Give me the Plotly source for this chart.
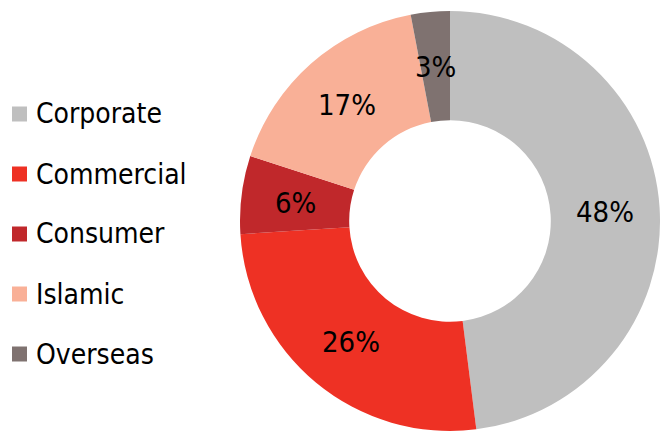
import math
import plotly.graph_objects as go

labels = ["Corporate", "Commercial", "Consumer", "Islamic", "Overseas"]
values = [48, 26, 6, 17, 3]
colors = ["#BFBFBF", "#EE3124", "#C0282B", "#F9B097", "#7F7270"]

W, H = 660, 432
FONT = "DejaVu Sans Condensed, DejaVu Sans, sans-serif"
HOLE = 0.48
dom_x = [240 / W, 1.0]
dom_y = [0.0, 422 / H]

fig = go.Figure()
fig.add_trace(go.Pie(
    labels=labels, values=values, sort=False, direction="clockwise", rotation=0,
    hole=HOLE,
    marker=dict(colors=colors, line=dict(width=0)),
    textinfo="none",
    domain=dict(x=dom_x, y=dom_y),
    showlegend=False, hoverinfo="label+percent",
))

# percentage labels at the middle of the ring, derived from the values
cx = (dom_x[0] + dom_x[1]) / 2 * W
cy = H - (dom_y[0] + dom_y[1]) / 2 * H
R = min((dom_x[1] - dom_x[0]) * W, (dom_y[1] - dom_y[0]) * H) / 2
rmid = R * (1 + HOLE) / 2
total = sum(values)
cum = 0
for v in values:
    mid = (cum + v / 2) / total * 2 * math.pi
    cum += v
    px = cx + rmid * math.sin(mid)
    py = cy - rmid * math.cos(mid)
    fig.add_annotation(xref="paper", yref="paper", x=px / W, y=1 - (py + 1) / H,
                       xanchor="center", yanchor="middle",
                       text=f"{round(v / total * 100)}%", showarrow=False,
                       font=dict(family=FONT, size=29, color="black"))

legend_y0 = 114
legend_step = 60
for i, (lab, col) in enumerate(zip(labels, colors)):
    yc = legend_y0 + i * legend_step
    fig.add_shape(type="rect", xref="paper", yref="paper",
                  x0=12 / W, x1=27 / W, y0=1 - (yc + 7.5) / H, y1=1 - (yc - 7.5) / H,
                  fillcolor=col, line=dict(width=0))
    fig.add_annotation(xref="paper", yref="paper", x=34 / W, y=1 - yc / H,
                       xanchor="left", yanchor="middle", text=lab, showarrow=False,
                       font=dict(family=FONT, size=28, color="black"))

fig.update_layout(
    width=W, height=H, margin=dict(l=0, r=0, t=0, b=0),
    paper_bgcolor="white", plot_bgcolor="white",
)
fig.write_html("out.html")
